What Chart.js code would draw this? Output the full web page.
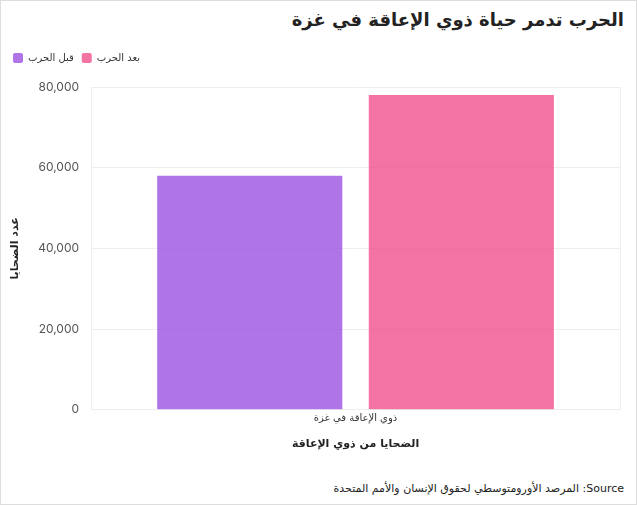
<!DOCTYPE html>
<html><head><meta charset="utf-8">
<script src="https://cdn.jsdelivr.net/npm/chart.js"></script>
<style>
html,body{margin:0;padding:0;background:#fff;}
#wrap{position:relative;width:637px;height:505px;box-sizing:border-box;border:1px solid #ddd;}
#title{position:absolute;right:12px;top:8px;font:bold 18px "DejaVu Sans",sans-serif;color:#222;direction:rtl;}
#src{position:absolute;right:12px;top:481px;font:11px "DejaVu Sans",sans-serif;color:#222;}
#c{position:absolute;left:0;top:44px;}
</style></head><body>
<div id="wrap">
<div id="title">الحرب تدمر حياة ذوي الإعاقة في غزة</div>
<canvas id="c" width="635" height="430"></canvas>
<div id="src">المرصد الأورومتوسطي لحقوق الإنسان والأمم المتحدة :Source</div>
</div>
<script>
const categories=["ذوي الإعاقة في غزة"];
const seriesNames=["قبل الحرب","بعد الحرب"];
const beforeWar=[58000];
const afterWar=[78000];
const colors=["rgba(155,81,224,0.8)","rgba(240,80,140,0.8)"];
new Chart(document.getElementById('c'),{
type:'bar',
data:{labels:categories,datasets:[
{label:seriesNames[0],data:beforeWar,backgroundColor:colors[0],categoryPercentage:0.8,barPercentage:0.875},
{label:seriesNames[1],data:afterWar,backgroundColor:colors[1],categoryPercentage:0.8,barPercentage:0.875}]},
plugins:[{id:'lgpad',beforeInit(chart){const f=chart.legend.fit;chart.legend.fit=function(){f.bind(chart.legend)();this.height+=14;};}}],
options:{responsive:false,animation:false,
layout:{padding:{left:4,right:16,top:0,bottom:20}},
plugins:{legend:{position:'top',align:'start',labels:{boxWidth:10,boxHeight:10,useBorderRadius:true,borderRadius:2,font:{size:10,family:'DejaVu Sans'},color:'#333',padding:8}},tooltip:{enabled:false}},
scales:{
y:{min:0,max:80000,ticks:{stepSize:20000,font:{size:12,family:'Inter'},color:'#555',padding:12},grid:{color:'#eee',drawTicks:false},border:{display:false},
title:{display:true,text:'عدد الضحايا',font:{size:11,weight:'bold',family:'DejaVu Sans'},color:'#222'}},
x:{ticks:{font:{size:10,family:'DejaVu Sans'},color:'#333'},grid:{color:'#eee',drawTicks:false},border:{display:false},
title:{display:true,text:'الضحايا من ذوي الإعاقة',font:{size:11,weight:'bold',family:'DejaVu Sans'},color:'#222',padding:{top:10}}}
}}});
</script>
</body></html>
